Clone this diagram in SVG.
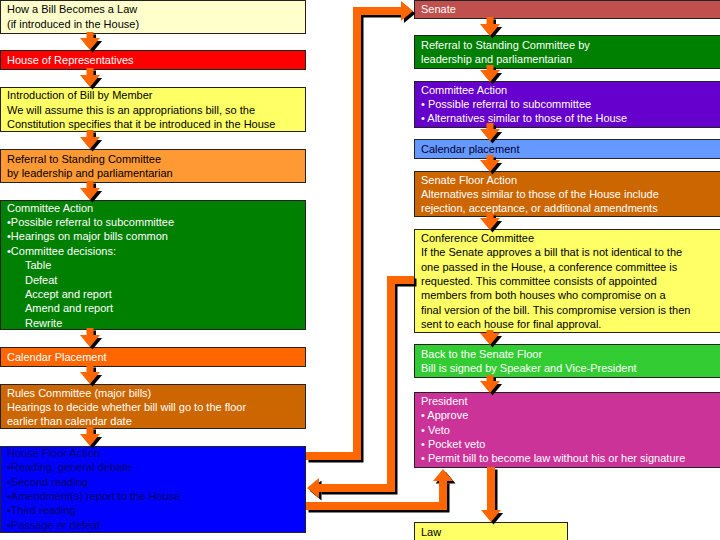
<svg xmlns="http://www.w3.org/2000/svg" width="720" height="540" viewBox="0 0 720 540">
<style>
  .box { stroke: #222; stroke-width: 1; }
  text { font-family: "Liberation Sans", Arial, sans-serif; font-size: 11px; }
  .w { fill: #ffffff; }
  .k { fill: #000000; }
  .nv { fill: #000066; }
  .dk { fill: #000033; }
  .arr { fill: none; stroke: #ff6600; }
  .sh { fill: none; stroke: #000000; }
</style>
<defs>
  <marker id="ah" viewBox="0 0 12 20" markerWidth="12" markerHeight="20" refX="0" refY="10" orient="auto" markerUnits="userSpaceOnUse">
    <path d="M0,0 L12,10 L0,20 z" fill="#ff6600"/>
  </marker>
  <marker id="ahs" viewBox="0 0 12 20" markerWidth="12" markerHeight="20" refX="0" refY="10" orient="auto" markerUnits="userSpaceOnUse">
    <path d="M0,0 L12,10 L0,20 z" fill="#000000"/>
  </marker>
</defs>
<rect width="720" height="540" fill="#ffffff"/>

<!-- Left column -->
<g id="title">
  <rect class="box" x="0.5" y="0.5" width="305" height="33" fill="#ffffcc"/>
  <text class="k"><tspan x="7" y="13">How a Bill Becomes a Law</tspan><tspan x="7" y="28">(if introduced in the House)</tspan></text>
</g>
<g id="house">
  <rect class="box" x="0.5" y="50.5" width="305" height="19" fill="#ff0000"/>
  <text class="w" x="7" y="64">House of Representatives</text>
</g>
<g id="introduction">
  <rect class="box" x="0.5" y="87.5" width="305" height="44" fill="#ffff66"/>
  <text class="k"><tspan x="7" y="99">Introduction of Bill by Member</tspan><tspan x="7" y="114">We will assume this is an appropriations bill, so the</tspan><tspan x="7" y="128">Constitution specifies that it be introduced in the House</tspan></text>
</g>
<g id="house-referral">
  <rect class="box" x="0.5" y="149.5" width="305" height="33" fill="#ff9933"/>
  <text class="k"><tspan x="7" y="163">Referral to Standing Committee</tspan><tspan x="7" y="177">by leadership and parliamentarian</tspan></text>
</g>
<g id="house-committee">
  <rect class="box" x="0.5" y="200.5" width="305" height="129" fill="#008000"/>
  <text class="w"><tspan x="7" y="212">Committee Action</tspan><tspan x="7" y="226">•Possible referral to subcommittee</tspan><tspan x="7" y="240">•Hearings on major bills common</tspan><tspan x="7" y="255">•Committee decisions:</tspan><tspan x="25" y="269">Table</tspan><tspan x="25" y="284">Defeat</tspan><tspan x="25" y="298">Accept and report</tspan><tspan x="25" y="312">Amend and report</tspan><tspan x="25" y="327">Rewrite</tspan></text>
</g>
<g id="house-calendar">
  <rect class="box" x="0.5" y="347.5" width="305" height="19" fill="#ff6600"/>
  <text class="w" x="7" y="361">Calendar Placement</text>
</g>
<g id="rules">
  <rect class="box" x="0.5" y="384.5" width="305" height="44" fill="#cc6600"/>
  <text class="w"><tspan x="7" y="397">Rules Committee (major bills)</tspan><tspan x="7" y="411">Hearings to decide whether bill will go to the floor</tspan><tspan x="7" y="425">earlier than calendar date</tspan></text>
</g>
<g id="house-floor">
  <rect class="box" x="0.5" y="446.5" width="305" height="86" fill="#0000ff"/>
  <text class="nv"><tspan x="7" y="457">House Floor Action</tspan><tspan x="7" y="471">•Reading, general debate</tspan><tspan x="7" y="486">•Second reading</tspan><tspan x="7" y="500">•Amendment(s) report to the House</tspan><tspan x="7" y="514">•Third reading</tspan><tspan x="7" y="529">•Passage or defeat</tspan></text>
</g>

<!-- Right column -->
<g id="senate">
  <rect class="box" x="414.5" y="0.5" width="310" height="18" fill="#c0504d"/>
  <text class="w" x="421" y="13">Senate</text>
</g>
<g id="senate-referral">
  <rect class="box" x="414.5" y="35.5" width="310" height="33" fill="#008000"/>
  <text class="w"><tspan x="421" y="49">Referral to Standing Committee by</tspan><tspan x="421" y="63">leadership and parliamentarian</tspan></text>
</g>
<g id="senate-committee">
  <rect class="box" x="414.5" y="81.5" width="310" height="46" fill="#6600cc"/>
  <text class="w"><tspan x="421" y="94">Committee Action</tspan><tspan x="421" y="108">• Possible referral to subcommittee</tspan><tspan x="421" y="122">• Alternatives similar to those of the House</tspan></text>
</g>
<g id="senate-calendar">
  <rect class="box" x="414.5" y="139.5" width="310" height="19" fill="#6699ff"/>
  <text class="dk" x="421" y="153">Calendar placement</text>
</g>
<g id="senate-floor">
  <rect class="box" x="414.5" y="171.5" width="310" height="45" fill="#cc6600"/>
  <text class="w"><tspan x="421" y="184">Senate Floor Action</tspan><tspan x="421" y="198">Alternatives similar to those of the House include</tspan><tspan x="421" y="212">rejection, acceptance, or additional amendments</tspan></text>
</g>
<g id="conference">
  <rect class="box" x="414.5" y="229.5" width="310" height="103" fill="#ffff66"/>
  <text class="k"><tspan x="421" y="242">Conference Committee</tspan><tspan x="421" y="256">If the Senate approves a bill that is not identical to the</tspan><tspan x="421" y="271">one passed in the House, a conference committee is</tspan><tspan x="421" y="285">requested. This committee consists of appointed</tspan><tspan x="421" y="299">members from both houses who compromise on a</tspan><tspan x="421" y="314">final version of the bill. This compromise version is then</tspan><tspan x="421" y="328">sent to each house for final approval.</tspan></text>
</g>
<g id="back-to-senate">
  <rect class="box" x="414.5" y="344.5" width="310" height="33" fill="#33cc33"/>
  <text class="w"><tspan x="421" y="358">Back to the Senate Floor</tspan><tspan x="421" y="372">Bill is signed by Speaker and Vice-President</tspan></text>
</g>
<g id="president">
  <rect class="box" x="414.5" y="392.5" width="310" height="75" fill="#cc3399"/>
  <text class="w"><tspan x="421" y="405">President</tspan><tspan x="421" y="419">• Approve</tspan><tspan x="421" y="434">• Veto</tspan><tspan x="421" y="448">• Pocket veto</tspan><tspan x="421" y="462">• Permit bill to become law without his or her signature</tspan></text>
</g>
<g id="law">
  <rect class="box" x="414.5" y="522.5" width="153" height="20" fill="#ffff66"/>
  <text class="k" x="421" y="536">Law</text>
</g>

<!-- Connectors -->
<g id="connectors">
  <g transform="translate(2.5,2.5)">
    <path class="sh" stroke-width="7" marker-end="url(#ahs)" d="M90,32 V38"/>
    <path class="sh" stroke-width="7" marker-end="url(#ahs)" d="M90,68 V75"/>
    <path class="sh" stroke-width="7" marker-end="url(#ahs)" d="M90,130 V137"/>
    <path class="sh" stroke-width="7" marker-end="url(#ahs)" d="M90,181 V188"/>
    <path class="sh" stroke-width="7" marker-end="url(#ahs)" d="M90,328 V335"/>
    <path class="sh" stroke-width="7" marker-end="url(#ahs)" d="M90,365 V372"/>
    <path class="sh" stroke-width="7" marker-end="url(#ahs)" d="M90,427 V434"/>
    <path class="sh" stroke-width="7" marker-end="url(#ahs)" d="M490,17 V24"/>
    <path class="sh" stroke-width="7" marker-end="url(#ahs)" d="M490,65 V70"/>
    <path class="sh" stroke-width="7" marker-end="url(#ahs)" d="M490,123 V129"/>
    <path class="sh" stroke-width="7" marker-end="url(#ahs)" d="M490,155 V160"/>
    <path class="sh" stroke-width="7" marker-end="url(#ahs)" d="M490,213 V218"/>
    <path class="sh" stroke-width="7" marker-end="url(#ahs)" d="M490,330 V333"/>
    <path class="sh" stroke-width="7" marker-end="url(#ahs)" d="M490,375 V381"/>
    <path class="sh" stroke-width="8" marker-end="url(#ahs)" d="M491,467 V510"/>
    <path class="sh" stroke-width="8" marker-end="url(#ahs)" d="M306,456 H357 V11 H401"/>
    <path class="sh" stroke-width="8" marker-end="url(#ahs)" d="M414,280 H391 V488 H319"/>
    <path class="sh" stroke-width="8" marker-end="url(#ahs)" d="M306,506 H443 V481"/>
  </g>
  <path class="arr" stroke-width="7" marker-end="url(#ah)" d="M90,32 V38"/>
  <path class="arr" stroke-width="7" marker-end="url(#ah)" d="M90,68 V75"/>
  <path class="arr" stroke-width="7" marker-end="url(#ah)" d="M90,130 V137"/>
  <path class="arr" stroke-width="7" marker-end="url(#ah)" d="M90,181 V188"/>
  <path class="arr" stroke-width="7" marker-end="url(#ah)" d="M90,328 V335"/>
  <path class="arr" stroke-width="7" marker-end="url(#ah)" d="M90,365 V372"/>
  <path class="arr" stroke-width="7" marker-end="url(#ah)" d="M90,427 V434"/>
  <path class="arr" stroke-width="7" marker-end="url(#ah)" d="M490,17 V24"/>
  <path class="arr" stroke-width="7" marker-end="url(#ah)" d="M490,65 V70"/>
  <path class="arr" stroke-width="7" marker-end="url(#ah)" d="M490,123 V129"/>
  <path class="arr" stroke-width="7" marker-end="url(#ah)" d="M490,155 V160"/>
  <path class="arr" stroke-width="7" marker-end="url(#ah)" d="M490,213 V218"/>
  <path class="arr" stroke-width="7" marker-end="url(#ah)" d="M490,330 V333"/>
  <path class="arr" stroke-width="7" marker-end="url(#ah)" d="M490,375 V381"/>
  <path class="arr" stroke-width="8" marker-end="url(#ah)" d="M491,467 V510"/>
  <path class="arr" stroke-width="8" marker-end="url(#ah)" d="M306,456 H357 V11 H401"/>
  <path class="arr" stroke-width="8" marker-end="url(#ah)" d="M414,280 H391 V488 H319"/>
  <path class="arr" stroke-width="8" marker-end="url(#ah)" d="M306,506 H443 V481"/>
</g>
</svg>
